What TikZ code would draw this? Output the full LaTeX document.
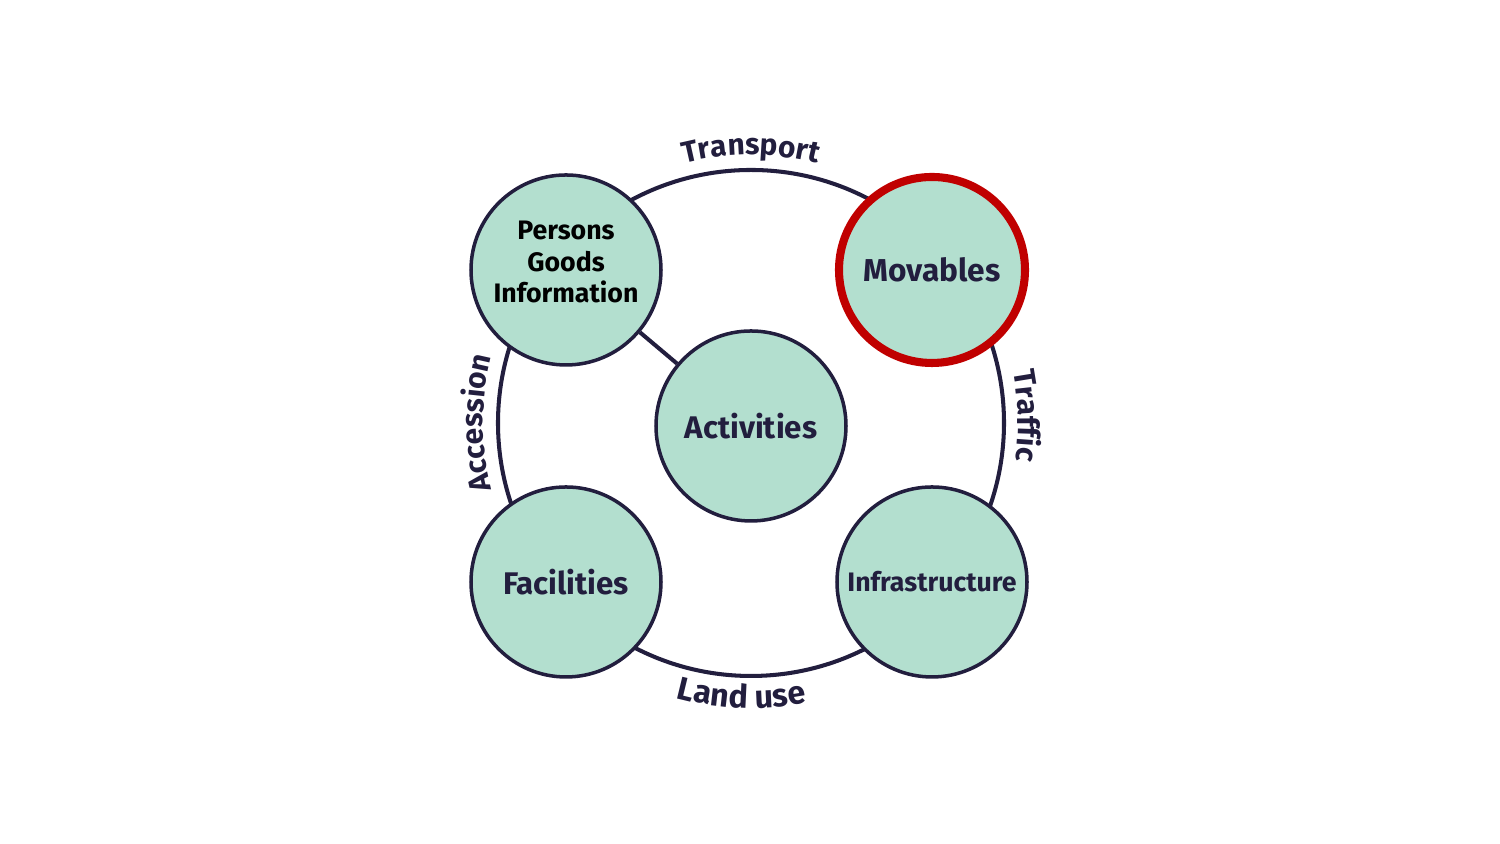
\documentclass[tikz,border=0pt]{standalone}
\usepackage{fontspec}
\setmainfont{Fira Sans}
\usetikzlibrary{decorations.text,calc}
\definecolor{navy}{HTML}{221E3E}
\definecolor{mint}{HTML}{B3DFCF}
\definecolor{hired}{HTML}{C00000}
\tikzset{
  bubble/.style={circle, draw=navy, line width=1pt, fill=mint, minimum size=1.9cm, inner sep=0pt, align=center, text=navy, font=\bfseries\fontsize{8.9}{10.5}\selectfont},
  ring/.style={draw=navy, line width=1.15pt},
  arclabel/.style={decorate, decoration={text along path, text align=center, text color=navy}}
}
\begin{document}
\begin{tikzpicture}
\useasboundingbox (0,0) rectangle (15,8.44);
\coordinate (C) at (7.51,4.21);
\draw[ring] (C) circle (2.53);
\node[bubble] (P) at (5.66,5.74) {};
\node[align=center, text=black, inner sep=0pt, font=\bfseries\fontsize{7.6}{8.9}\selectfont] (Ptext) at ([yshift=0.08cm]P.center) {Persons\\Goods\\Information};
\node[bubble] (A) at (7.51,4.18) {Activities};
\draw[ring] (P) -- (A);
\node[bubble, draw=hired, line width=2.3pt, minimum size=1.86cm, font=\bfseries\fontsize{9}{10.5}\selectfont] (M) at (9.32,5.74) {Movables};
\node[bubble] (F) at (5.66,2.62) {Facilities};
\node[bubble, font=\bfseries\fontsize{7.6}{9}\selectfont] (I) at (9.32,2.62) {Infrastructure};
\path[arclabel, decoration={text={|\bfseries\fontsize{8.5}{10}\selectfont|Transport}}] ($(C)+(125:2.68)$) arc (125:55:2.68);
\path[arclabel, decoration={text={|\bfseries\fontsize{8.5}{10}\selectfont|Accession}}] ($(C)+(215:2.68)$) arc (215:145:2.68);
\path[arclabel, decoration={text={|\bfseries\fontsize{8.6}{10}\selectfont|Traffic}}] ($(C)+(36.5:2.67)$) arc (36.5:-33.5:2.67);
\path[arclabel, decoration={text={|\bfseries\fontsize{9.2}{11}\selectfont|Land use}}] ($(C)+(233:2.85)$) arc (233:303:2.85);
\end{tikzpicture}
\end{document}
